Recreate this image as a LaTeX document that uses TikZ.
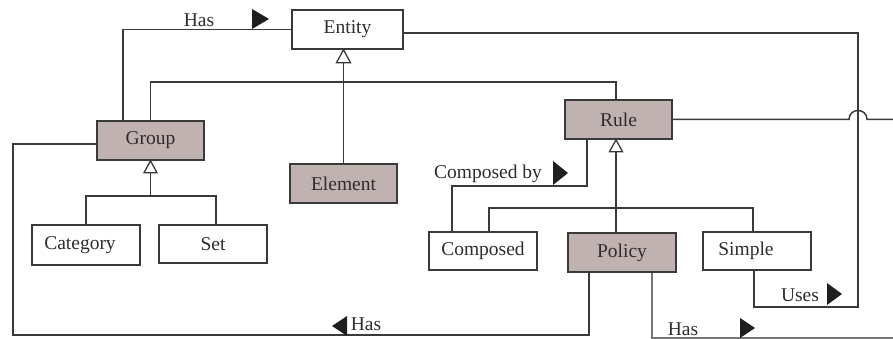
\documentclass[tikz,border=0pt]{standalone}
\usepackage{fontspec}
\setmainfont{Liberation Serif}
\definecolor{boxfill}{RGB}{192,178,176}
\definecolor{ink}{RGB}{58,58,58}
\definecolor{txt}{RGB}{48,44,44}
\begin{document}
\begin{tikzpicture}[x=1pt,y=-1pt,
  cls/.style={draw=ink, line width=1.5pt, minimum height=39pt, minimum width=108pt,
    inner sep=0pt, font=\fontsize{19.5}{22}\selectfont, text=txt, fill=white},
  abs/.style={cls, fill=boxfill},
  wire/.style={draw=ink, line width=1.5pt},
  tri/.style={fill=black!88},
  gen/.style={draw=ink, line width=1.3pt, fill=white},
  lab/.style={font=\fontsize{19.5}{22}\selectfont, text=txt, inner sep=0pt}]
\useasboundingbox (0,0) rectangle (893,339);

% classes
\node[cls, minimum width=111pt] (entity) at (347.5,29.5) {Entity};
\node[abs, minimum width=107pt] (group) at (150.5,140.5) {Group};
\node[abs, minimum width=107pt] (element) at (343.5,183.5) {Element};
\node[cls, minimum height=40pt] (category) at (86,245) {\hspace*{-12pt}Category};
\node[cls, minimum height=38pt] (set) at (213,244) {Set};
\node[abs, minimum width=107pt] (rule) at (618.5,119.5) {Rule};
\node[cls, minimum height=38pt] (composed) at (483,251) {Composed};
\node[abs] (policy) at (622,252.5) {Policy};
\node[cls, minimum height=38pt] (simple) at (757,251) {\hspace*{-22pt}Simple};

% helper coordinates
\coordinate (c3) at (858,307);
\coordinate (c7) at (13,335);
\coordinate (c10) at (893,338);
\coordinate (gj) at (150.5,196);
\coordinate (rj) at (618.5,208);
\coordinate (hopL) at (849,119.5);
\coordinate (hopR) at (867,119.5);
\coordinate (rEnd) at (893,119.5);

% Group -- Has --> Entity
\draw[wire] ([xshift=-27.5pt]group.north) |- (entity.west);
% Group -- Rule
\draw[wire] (group.north) -- ++(0,-38) -| ([xshift=-2.5pt]rule.north);
% Entity -- ... -- Simple (Uses)
\draw[wire] ([yshift=-3.5pt]entity.east) -| (c3) -| ([xshift=-3pt]simple.south);
% Rule to the right, hopping over
\draw[wire] (rule.east) -- (hopL) .. controls (849,107.5) and (867,107.5) .. (hopR) -- (rEnd);
% Element generalises Entity
\draw[wire] (element.north) -- (element.north |- 0,62);
\draw[gen] (element.north |- entity.south) -- ++(7,13) -- ++(-14,0) -- cycle;
% Category, Set generalise Group
\draw[wire] (category.north) |- (gj) -| ([xshift=3pt]set.north);
\draw[wire] (gj) -- (group.south |- 0,172);
\draw[gen] (group.south) -- ++(6.5,12) -- ++(-13,0) -- cycle;
% Group -- Has -- Policy
\draw[wire] ([yshift=-3.5pt]group.west) -| (c7) -| ([xshift=-33pt]policy.south);
% Composed, Policy, Simple generalise Rule
\draw[wire] ([xshift=-2.5pt]rule.south |- 0,151) -- ([xshift=-6pt]policy.north);
\draw[wire] ([xshift=6pt]composed.north) |- (rj) -| ([xshift=-4pt]simple.north);
\draw[gen] ([xshift=-2.5pt]rule.south) -- ++(6.5,12) -- ++(-13,0) -- cycle;
% Composed -- Composed by --> Rule
\draw[wire] ([xshift=-31.5pt]rule.south) -- ++(0,46) -| ([xshift=-31pt]composed.north);
% Policy -- Has -->
\draw[wire, draw=ink!70] ([xshift=30pt]policy.south) |- (c10);

% labels and direction marks
\node[lab] (has1) at (199,20) {Has};
\fill[tri] (252,9) -- (269,19) -- (252,29) -- cycle;
\node[lab] (uses) at (800,295) {Uses};
\fill[tri] (827,283) -- (842,294) -- (827,305) -- cycle;
\node[lab] (has2) at (366,324) {Has};
\fill[tri] (347,316) -- (332,326) -- (347,336) -- cycle;
\node[lab] (compby) at (488,174) {Composed by};
\fill[tri] (553,161) -- (568,173) -- (553,185) -- cycle;
\node[lab] (has3) at (683,329) {Has};
\fill[tri] (740,318) -- (755,328) -- (740,338) -- cycle;
\end{tikzpicture}
\end{document}
